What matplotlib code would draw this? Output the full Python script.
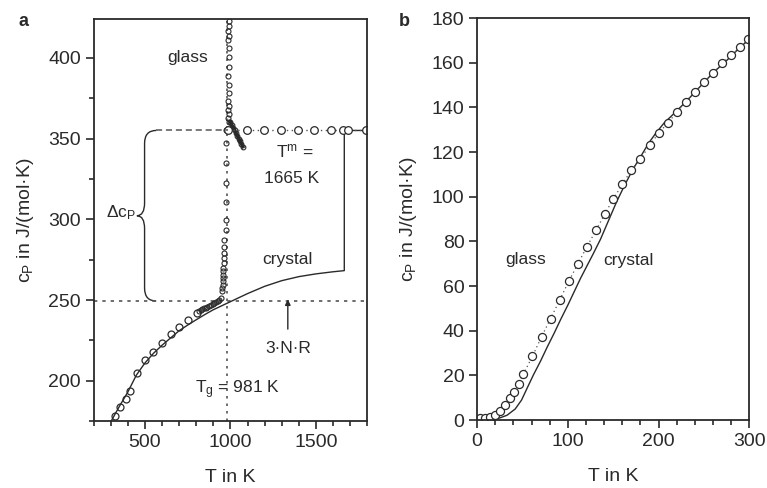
import matplotlib.pyplot as plt
from matplotlib.path import Path
from matplotlib.patches import PathPatch
from matplotlib.ticker import MultipleLocator

plt.rcParams['font.family'] = ['Liberation Sans', 'DejaVu Sans']
plt.rcParams['mathtext.fontset'] = 'custom'
plt.rcParams['mathtext.rm'] = 'Liberation Sans'
plt.rcParams['mathtext.it'] = 'Liberation Sans:italic'

INK = '#2a2a2a'
GREY = '#555555'

# --- panel a: around the glass transition ---
T_G = 981
T_M = 1665
CP_3NR = 249.4
CP_LIQUID = 355

crystal_a_T = [300, 350, 400, 450, 500, 550, 600, 650, 700, 750, 800, 850, 900,
               950, 1000, 1100, 1200, 1300, 1400, 1500, 1600, 1665]
crystal_a_cp = [174.5, 184, 193, 203.5, 211, 217, 222, 226.5, 231, 234.5, 237.8,
                241, 244, 246.5, 249, 254, 258.5, 262, 264.5, 266.2, 267.5, 268.2]

glass_a_T = [323, 352, 387, 410, 451, 502, 550, 601, 654, 702, 751, 803]
glass_a_cp = [178, 184, 189, 193.4, 205, 212.6, 218, 223.3, 229, 233.6, 237.8, 242]

# dense heating scan through T_g
scan_T = [815, 825, 835, 845, 855, 865, 875, 885, 895, 905, 915, 925, 935, 945,
          948, 952, 955, 955, 955, 955, 957, 959, 961, 961, 965, 965, 965, 971,
          971, 975, 975, 975, 975, 976,
          990, 986, 992, 988, 991, 987, 993, 989, 986, 992, 990, 994, 988, 991,
          987, 990, 989]
scan_cp = [243.0, 243.6, 244.2, 244.8, 245.3, 245.8, 246.3, 246.8, 247.4, 248.0,
           248.6, 249.2, 250.0, 251.2,
           255.3, 257.4, 259.4, 261.5, 263.6, 265.6, 267.7, 269.8, 272.9, 276,
           279, 283, 287, 293.5, 299.7, 311, 322.4, 334.8, 347.2, 355.4,
           360.2, 362.6, 365.1, 367.8, 370.4, 373.4, 378.1, 383.3, 389, 394.6,
           400.2, 406, 411.1, 413.2, 416.3, 419.4, 422.5]

# supercooled liquid streak just above T_g
streak_T = [1000, 1008, 1016, 1024, 1032, 1040, 1048, 1056, 1064, 1072]
streak_cp = [360, 358.3, 356.6, 355, 353.3, 351.7, 350, 348.3, 346.7, 345]

liquid_T = [985, 1095, 1195, 1295, 1395, 1490, 1590, 1655, 1685, 1790]
liquid_cp = [355, 355, 355, 355, 355, 355, 355, 355, 355, 355]

# --- panel b: low temperatures ---
crystal_b_T = [0, 16, 25, 33, 42, 49, 55, 62, 70, 77, 85, 92, 100, 107, 114, 121,
               128, 136, 145, 154, 163, 172, 181, 189, 197, 206, 215, 230, 245,
               260, 275, 290, 300]
crystal_b_cp = [0, 0.3, 1.0, 2.2, 5.0, 9.0, 14.2, 20.2, 26.5, 32.5, 39.0, 45.0,
                51.5, 57.5, 63.5, 69.0, 74.5, 81.0, 89.5, 98.0, 105.5, 112.5,
                118.5, 124, 128.5, 133, 136.5, 142.5, 149, 155.5, 161, 167, 170.5]

glass_b_T = [3, 9, 14, 20, 25, 31, 36, 41, 46, 51, 61, 71, 81, 91, 101, 111, 121,
             131, 141, 150, 160, 170, 180, 190, 200, 210, 220, 230, 240, 250, 260,
             270, 280, 290, 299]
glass_b_cp = [0.8, 0.8, 1.2, 2.1, 4, 6.7, 9.7, 12.4, 16.4, 20.6, 28.6, 37.3, 45.5,
              53.7, 62.2, 69.9, 77.6, 85, 92.5, 99, 105.5, 112, 116.8, 123, 128.4,
              133, 137.8, 142.5, 147, 151.3, 155.5, 159.7, 163.4, 167, 170.5]

YLABEL = r'c$_\mathrm{P}$ in J/(mol·K)'


def style_axes(ax):
    for sp in ax.spines.values():
        sp.set_linewidth(1.3)
        sp.set_color(INK)
    ax.tick_params(which='both', direction='out', width=1.2, colors=INK,
                   labelsize=14, pad=3)
    ax.tick_params(which='major', length=6)
    ax.tick_params(which='minor', length=3.5)
    ax.set_xlabel('T in K', fontsize=14, color=INK, labelpad=13)
    ax.set_ylabel(YLABEL, fontsize=14, color=INK, labelpad=9)


def curly_brace(ax, x_end, x_bar, x_tip, y_top, y_bot):
    y_mid = (y_top + y_bot) / 2
    r = 8
    verts = [(x_end, y_top), (x_bar, y_top), (x_bar, y_top - r),
             (x_bar, y_mid + r), (x_bar, y_mid), (x_tip, y_mid),
             (x_bar, y_mid), (x_bar, y_mid - r),
             (x_bar, y_bot + r), (x_bar, y_bot), (x_end, y_bot)]
    codes = [Path.MOVETO, Path.CURVE3, Path.CURVE3,
             Path.LINETO, Path.CURVE3, Path.CURVE3,
             Path.CURVE3, Path.CURVE3,
             Path.LINETO, Path.CURVE3, Path.CURVE3]
    ax.add_patch(PathPatch(Path(verts, codes), fill=False, lw=1.0, ec=INK))


fig = plt.figure(figsize=(7.67, 4.88), dpi=100)
ax_a = fig.add_axes([0.122, 0.137, 0.357, 0.824])
ax_b = fig.add_axes([0.622, 0.139, 0.355, 0.824])

# panel a
ax = ax_a
ax.axhline(CP_3NR, color=GREY, ls=(0, (2, 3)), lw=1.2)
ax.axvline(T_G, color=GREY, ls=(0, (1.5, 3)), lw=1.2)
ax.plot(crystal_a_T + [T_M, 1800], crystal_a_cp + [CP_LIQUID, CP_LIQUID],
        color=INK, lw=1.0)
ax.plot(glass_a_T, glass_a_cp, 'o', ms=5, mfc='none', mec=INK, mew=0.9)
ax.plot(scan_T, scan_cp, 'o', ms=3.6, mfc='none', mec=INK, mew=0.8)
ax.plot(streak_T, streak_cp, '-', color=INK, lw=2.6)
ax.plot(streak_T, streak_cp, 'o', ms=3.4, mfc='none', mec=INK, mew=0.8)
ax.plot(liquid_T, liquid_cp, 'o', ls=(0, (1, 2.5)), color=GREY, lw=1.0,
        ms=5.5, mfc='white', mec=INK, mew=0.9)
ax.plot([566, liquid_T[0]], [CP_LIQUID, CP_LIQUID], color=GREY,
        ls=(0, (4, 2.5)), lw=1.1)
curly_brace(ax, 566, 498, 453, CP_LIQUID, CP_3NR)

ax.annotate('', xy=(1335, CP_3NR + 1), xytext=(1335, 232),
            arrowprops=dict(arrowstyle='-|>', color=INK, lw=1.0,
                            mutation_scale=8, shrinkA=0, shrinkB=0))
ax.text(749, 400, 'glass', fontsize=12.5, color=INK, ha='center', va='center')
ax.text(1374, 342, r'T$^\mathrm{m}$ =', fontsize=12.5, color=INK,
        ha='center', va='center')
ax.text(1354, 325.5, f'{T_M} K', fontsize=12.5, color=INK,
        ha='center', va='center')
ax.text(445, 304, r'$\Delta$c$_\mathrm{P}$', fontsize=12.5, color=INK,
        ha='right', va='center')
ax.text(1335, 275, 'crystal', fontsize=12.5, color=INK, ha='center', va='center')
ax.text(1335, 220, '3·N·R', fontsize=12.5, color=INK, ha='center', va='center')
ax.text(1043, 194.5, r'T$_\mathrm{g}$ = ' + f'{T_G} K', fontsize=12.5,
        color=INK, ha='center', va='center')

ax.set_xlim(200, 1800)
ax.set_ylim(175, 424)
ax.xaxis.set_major_locator(MultipleLocator(500))
ax.xaxis.set_minor_locator(MultipleLocator(100))
ax.yaxis.set_major_locator(MultipleLocator(50))
ax.yaxis.set_minor_locator(MultipleLocator(25))
style_axes(ax)

# panel b
ax = ax_b
ax.plot(crystal_b_T, crystal_b_cp, color=INK, lw=1.0)
ax.plot(glass_b_T, glass_b_cp, 'o', ls=(0, (1, 2.5)), color=GREY, lw=0.9,
        ms=5.8, mfc='white', mec=INK, mew=0.9)
ax.text(54, 72, 'glass', fontsize=12.5, color=INK, ha='center', va='center')
ax.text(167, 71.6, 'crystal', fontsize=12.5, color=INK, ha='center', va='center')
ax.set_xlim(0, 300)
ax.set_ylim(0, 180)
ax.xaxis.set_major_locator(MultipleLocator(100))
ax.xaxis.set_minor_locator(MultipleLocator(20))
ax.yaxis.set_major_locator(MultipleLocator(20))
style_axes(ax)

fig.text(0.03, 0.955, 'a', fontsize=13, fontweight='bold', color=INK,
         ha='center', va='center')
fig.text(0.527, 0.955, 'b', fontsize=13, fontweight='bold', color=INK,
         ha='center', va='center')

fig.savefig('out.png', dpi=100)
